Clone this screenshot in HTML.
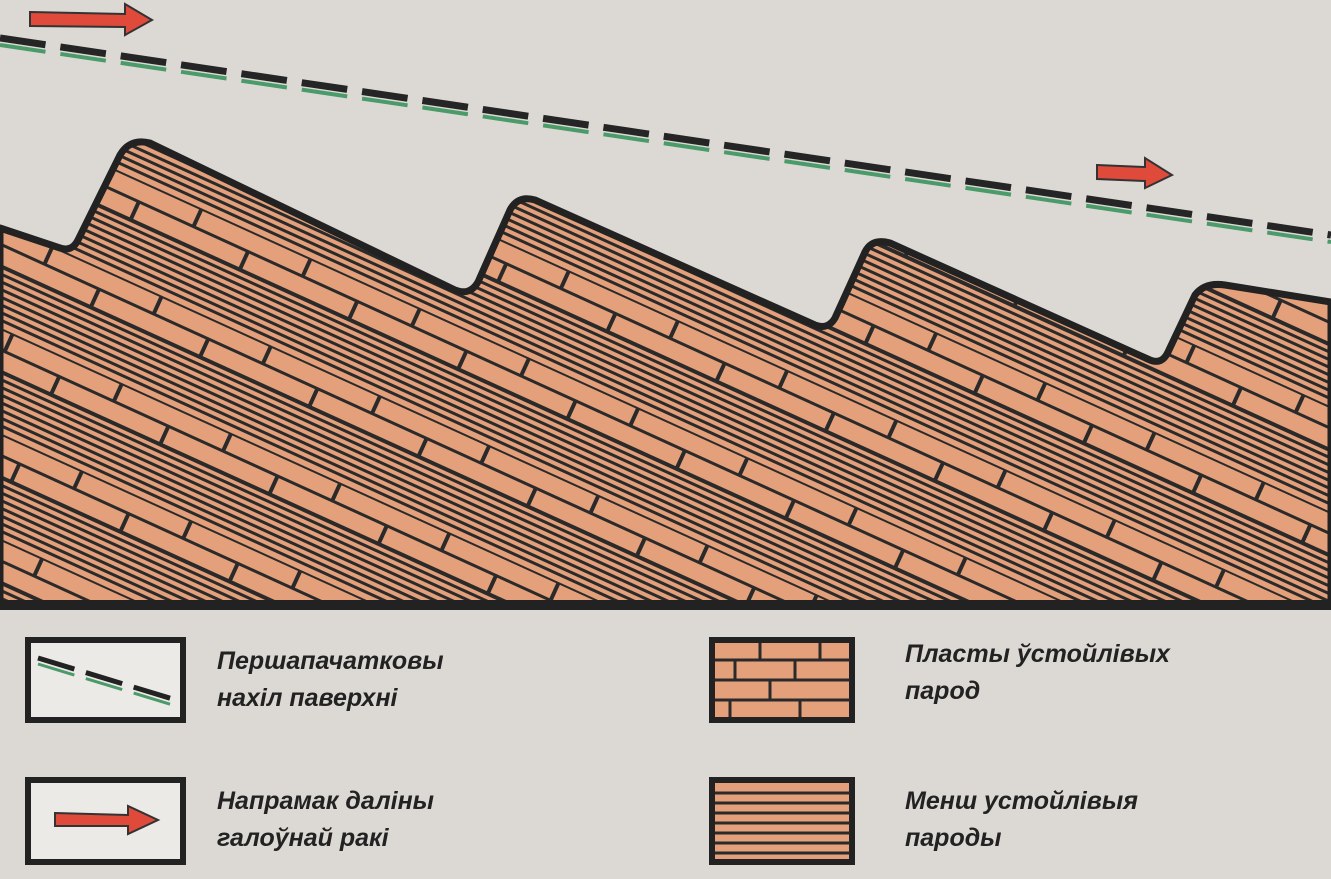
<!DOCTYPE html>
<html><head><meta charset="utf-8"><style>
body{margin:0;width:1331px;height:879px;overflow:hidden;background:#dcd9d5;font-family:"Liberation Sans",sans-serif}
.t{position:absolute;font-style:italic;font-weight:bold;font-size:25px;color:#222;line-height:37px}
</style></head><body>
<svg width="1331" height="879" style="position:absolute;left:0;top:0">
<defs>
<pattern id="strata" width="120" height="96" patternUnits="userSpaceOnUse" patternTransform="rotate(24.5) translate(0,10)">
<rect width="120" height="96" fill="#e3a07a"/>
<line x1="0" y1="0" x2="120" y2="0" stroke="#2a2a2a" stroke-width="4"/>
<line x1="0" y1="20" x2="120" y2="20" stroke="#2a2a2a" stroke-width="3"/>
<line x1="0" y1="40" x2="120" y2="40" stroke="#2a2a2a" stroke-width="4"/>
<line x1="30" y1="0" x2="30" y2="20" stroke="#2a2a2a" stroke-width="4"/>
<line x1="90" y1="20" x2="90" y2="40" stroke="#2a2a2a" stroke-width="4"/>
<line x1="0" y1="47" x2="120" y2="47" stroke="#2a2a2a" stroke-width="3"/>
<line x1="0" y1="54" x2="120" y2="54" stroke="#2a2a2a" stroke-width="3"/>
<line x1="0" y1="61" x2="120" y2="61" stroke="#2a2a2a" stroke-width="3"/>
<line x1="0" y1="68" x2="120" y2="68" stroke="#2a2a2a" stroke-width="3"/>
<line x1="0" y1="75" x2="120" y2="75" stroke="#2a2a2a" stroke-width="3"/>
<line x1="0" y1="82" x2="120" y2="82" stroke="#2a2a2a" stroke-width="3"/>
<line x1="0" y1="89" x2="120" y2="89" stroke="#2a2a2a" stroke-width="3"/>
</pattern>
</defs>
<path d="M0,228 L60,248 Q72,252 78,240 L120,155 Q130,138 150,143 L455,290 Q470,296 478,282 L510,210 Q518,195 535,200 L815,325 Q828,330 835,318 L865,252 Q872,238 890,243 L1150,360 Q1162,365 1168,352 L1195,295 Q1205,282 1225,285 L1331,302 L1331,605 L0,605 Z" fill="url(#strata)" stroke="#222" stroke-width="7" stroke-linejoin="round"/>
<rect x="0" y="600" width="1331" height="10" fill="#222"/>
<line x1="0" y1="45" x2="1331" y2="242" stroke="#4a9a6a" stroke-width="4" stroke-dasharray="46,15"/>
<line x1="0" y1="38" x2="1331" y2="235" stroke="#252525" stroke-width="7" stroke-dasharray="46,15"/>
<path d="M30,12 L125,14 L125,4 L152,20 L125,35 L125,27 L30,26 Z" fill="#e04a3a" stroke="#333" stroke-width="2"/>
<path d="M1097,165 L1145,167 L1145,158 L1172,175 L1145,188 L1145,181 L1097,179 Z" fill="#e04a3a" stroke="#333" stroke-width="2"/>
<rect x="28" y="640" width="155" height="80" fill="#eceae6" stroke="#222" stroke-width="6"/>
<line x1="38" y1="658" x2="176" y2="700" stroke="#222" stroke-width="5" stroke-dasharray="38,12"/>
<line x1="38" y1="664" x2="176" y2="706" stroke="#4a9a6a" stroke-width="3" stroke-dasharray="38,12"/>
<rect x="28" y="780" width="155" height="82" fill="#eceae6" stroke="#222" stroke-width="6"/>
<path d="M55,813 L128,815 L128,806 L158,820 L128,834 L128,826 L55,826 Z" fill="#e04a3a" stroke="#333" stroke-width="2"/>
<rect x="712" y="640" width="140" height="80" fill="#e3a07a" stroke="#222" stroke-width="6"/>
<path d="M715,660 H850 M715,680 H850 M715,700 H850 M760,643 V660 M820,643 V660 M735,660 V680 M795,660 V680 M770,680 V700 M730,700 V717 M800,700 V717" stroke="#2a2a2a" stroke-width="3" fill="none"/>
<rect x="712" y="780" width="140" height="82" fill="#e3a07a" stroke="#222" stroke-width="6"/>
<path d="M715,793 H850 M715,803 H850 M715,813 H850 M715,823 H850 M715,833 H850 M715,843 H850 M715,853 H850" stroke="#2a2a2a" stroke-width="3"/>
</svg>
<div class="t" style="left:217px;top:643px">Першапачатковы<br>нахіл паверхні</div>
<div class="t" style="left:217px;top:783px">Напрамак даліны<br>галоўнай ракі</div>
<div class="t" style="left:905px;top:636px">Пласты ўстойлівых<br>парод</div>
<div class="t" style="left:905px;top:783px">Менш устойлівыя<br>пароды</div>
</body></html>
